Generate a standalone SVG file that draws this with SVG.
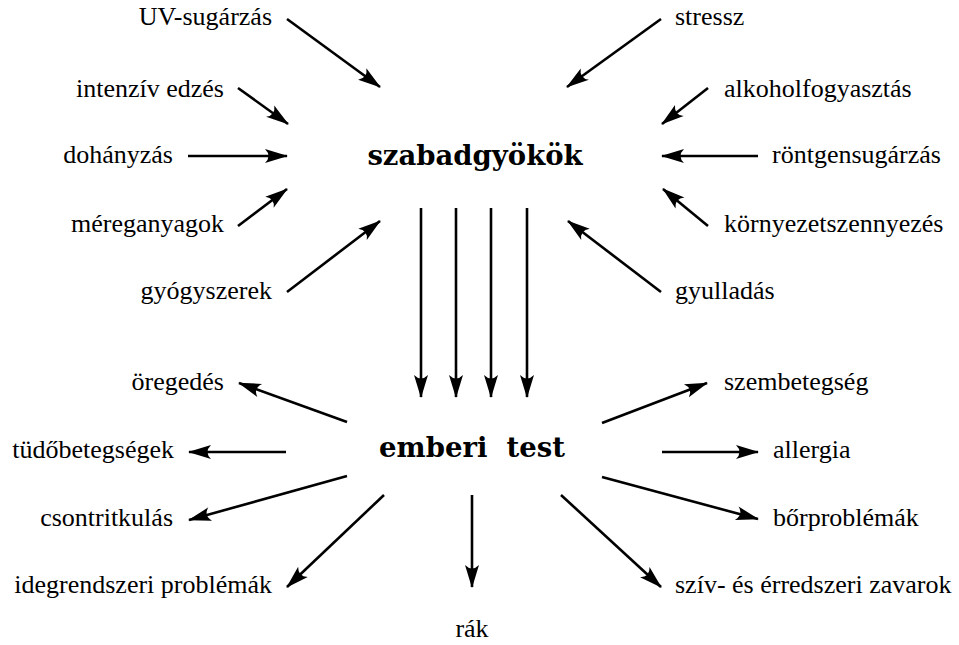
<svg xmlns="http://www.w3.org/2000/svg" width="959" height="645" viewBox="0 0 959 645">
<style>
.lbl{font-family:"Liberation Serif","DejaVu Serif",serif;font-size:26px;fill:#000}
.l{text-anchor:end}
.r{text-anchor:start}
.main{font-family:"DejaVu Serif","Liberation Serif",serif;font-weight:bold;font-size:27.5px;text-anchor:middle;fill:#000}
.c line{stroke:#000;stroke-width:2.6;marker-end:url(#ah)}
</style>
<defs>
<marker id="ah" markerUnits="userSpaceOnUse" markerWidth="28" markerHeight="18" viewBox="-25 -9 28 18" refX="0" refY="0" orient="auto" overflow="visible">
<path d="M1,0 L-22,-7 Q-15,0 -22,7 Z" fill="#000"/>
</marker>
</defs>
<rect width="959" height="645" fill="#fff"/>
<g id="n-szabadgyokok"><text class="main" x="475" y="165">szabadgyökök</text></g>
<g id="n-emberi-test"><text class="main" x="472" y="457" xml:space="preserve">emberi  test</text></g>
<g id="n-uv"><text class="lbl l" x="272" y="25">UV-sugárzás</text></g>
<g id="n-intenziv"><text class="lbl l" x="224" y="97">intenzív edzés</text></g>
<g id="n-dohanyzas"><text class="lbl l" x="173" y="163">dohányzás</text></g>
<g id="n-mereganyagok"><text class="lbl l" x="224" y="232">méreganyagok</text></g>
<g id="n-gyogyszerek"><text class="lbl l" x="272" y="299">gyógyszerek</text></g>
<g id="n-stressz"><text class="lbl r" x="675" y="25">stressz</text></g>
<g id="n-alkohol"><text class="lbl r" x="724" y="97">alkoholfogyasztás</text></g>
<g id="n-rontgen"><text class="lbl r" x="772" y="163">röntgensugárzás</text></g>
<g id="n-kornyezet"><text class="lbl r" x="724" y="232">környezetszennyezés</text></g>
<g id="n-gyulladas"><text class="lbl r" x="675" y="299">gyulladás</text></g>
<g id="n-oregedes"><text class="lbl l" x="224" y="390">öregedés</text></g>
<g id="n-tudo"><text class="lbl l" x="174" y="458">tüdőbetegségek</text></g>
<g id="n-csont"><text class="lbl l" x="173" y="526">csontritkulás</text></g>
<g id="n-ideg"><text class="lbl l" x="272" y="593">idegrendszeri problémák</text></g>
<g id="n-rak"><text class="lbl" x="472" y="637" text-anchor="middle">rák</text></g>
<g id="n-szem"><text class="lbl r" x="724" y="390">szembetegség</text></g>
<g id="n-allergia"><text class="lbl r" x="773" y="458">allergia</text></g>
<g id="n-bor"><text class="lbl r" x="773" y="526">bőrproblémák</text></g>
<g id="n-sziv"><text class="lbl r" x="675" y="593">szív- és érredszeri zavarok</text></g>
<g id="connectors" class="c">
<line x1="287" y1="19" x2="380" y2="87"/>
<line x1="238" y1="88" x2="288" y2="124"/>
<line x1="188" y1="156" x2="287" y2="156"/>
<line x1="238" y1="226" x2="287" y2="189"/>
<line x1="287" y1="292" x2="380" y2="221"/>
<line x1="661" y1="19" x2="567" y2="87"/>
<line x1="708" y1="88" x2="662" y2="124"/>
<line x1="758" y1="156" x2="662" y2="156"/>
<line x1="708" y1="226" x2="663" y2="189"/>
<line x1="661" y1="292" x2="568" y2="221"/>
<line x1="421" y1="208" x2="421" y2="397"/>
<line x1="456" y1="208" x2="456" y2="397"/>
<line x1="491" y1="208" x2="491" y2="397"/>
<line x1="527" y1="208" x2="527" y2="397"/>
<line x1="347" y1="422" x2="239" y2="383"/>
<line x1="286" y1="452" x2="189" y2="452"/>
<line x1="347" y1="476" x2="189" y2="520"/>
<line x1="384" y1="495" x2="287" y2="587"/>
<line x1="472" y1="495" x2="472" y2="587"/>
<line x1="602" y1="423" x2="707" y2="383"/>
<line x1="662" y1="452" x2="758" y2="452"/>
<line x1="602" y1="477" x2="758" y2="519"/>
<line x1="561" y1="495" x2="661" y2="587"/>
</g>
</svg>
